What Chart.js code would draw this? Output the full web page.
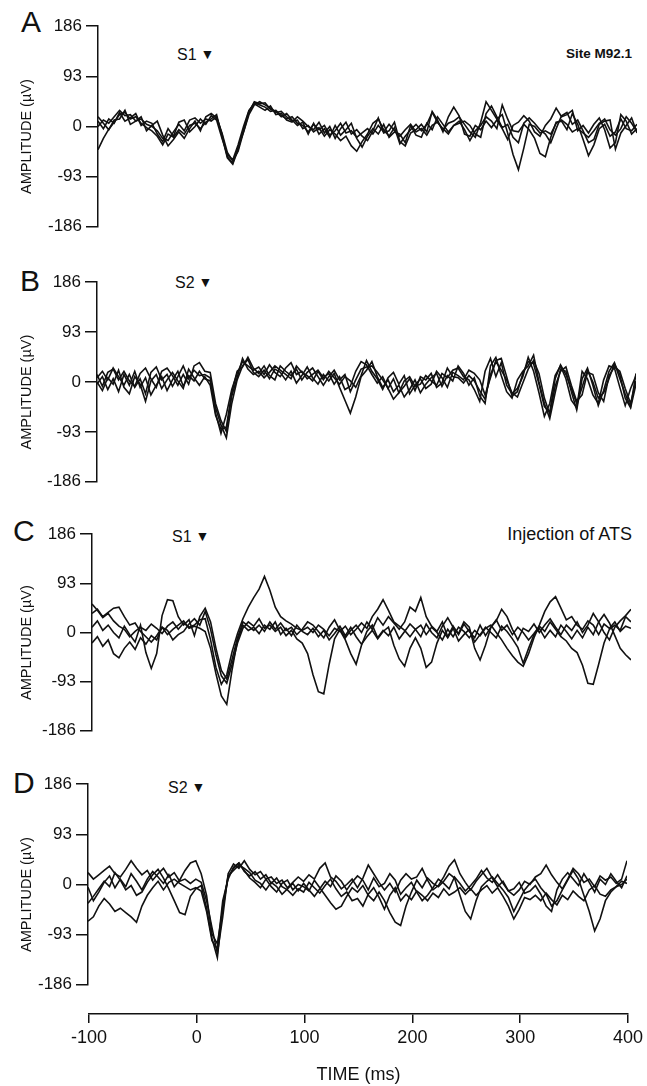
<!DOCTYPE html>
<html>
<head>
<meta charset="utf-8">
<script src="https://cdn.jsdelivr.net/npm/chart.js@4.4.0/dist/chart.umd.min.js"></script>
<style>
  body { margin: 0; background: #fff; width: 647px; height: 1086px; position: relative; overflow: hidden;
         font-family: "Liberation Sans", Arial, sans-serif; color: #111; }
  canvas { position: absolute; left: 0; }
  .lbl { position: absolute; white-space: nowrap; line-height: 1; }
  .letter { font-size: 30px; }
  .stim { font-size: 16px; }
  .stim span { font-size: 14px; margin-left: 4px; position: relative; top: -1px; }
</style>
</head>
<body>
<div class="lbl letter" style="left:21px;top:7px">A</div>
<div class="lbl letter" style="left:20px;top:266px">B</div>
<div class="lbl letter" style="left:13px;top:516px">C</div>
<div class="lbl letter" style="left:13px;top:768px">D</div>

<div class="lbl stim" style="left:177px;top:47px">S1<span>▼</span></div>
<div class="lbl stim" style="left:175px;top:275px">S2<span>▼</span></div>
<div class="lbl stim" style="left:172px;top:529px">S1<span>▼</span></div>
<div class="lbl stim" style="left:168px;top:780px">S2<span>▼</span></div>

<div class="lbl" style="right:15px;top:47px;font-size:13.5px;font-weight:bold">Site M92.1</div>
<div class="lbl" style="right:15px;top:525px;font-size:18px">Injection of ATS</div>

<script>
// time axis in ms, one sample every 5 ms
const TIME = [
  -100, -95, -90, -85, -80, -75, -70, -65, -60, -55,
  -50, -45, -40, -35, -30, -25, -20, -15, -10, -5,
  0, 5, 10, 15, 20, 25, 30, 35, 40, 45,
  50, 55, 60, 65, 70, 75, 80, 85, 90, 95,
  100, 105, 110, 115, 120, 125, 130, 135, 140, 145,
  150, 155, 160, 165, 170, 175, 180, 185, 190, 195,
  200, 205, 210, 215, 220, 225, 230, 235, 240, 245,
  250, 255, 260, 265, 270, 275, 280, 285, 290, 295,
  300, 305, 310, 315, 320, 325, 330, 335, 340, 345,
  350, 355, 360, 365, 370, 375, 380, 385, 390, 395,
  400
];
const Y_TICKS = [-186, -93, 0, 93, 186];
const X_TICKS = [-100, 0, 100, 200, 300, 400];

// panel A (S1)
const A1 = [-43, -22, -5, 8, 22, 26, 14, 18, 6, -2,
  -8, -18, -34, -14, -20, -6, -14, 2, 6, -4,
  8, 14, 22, -18, -58, -70, -42, -6, 28, 44,
  40, 36, 28, 30, 20, 14, 18, 6, 2, -10,
  4, -6, 2, -16, -8, 6, -12, -8, -20, -12,
  -4, -14, 2, -10, 4, -8, -18, -6, 4, -10,
  -4, -16, 2, 8, -6, 6, 10, 18, 4, -10,
  -20, 8, 46, 30, 14, 22, -12, -52, -80, -40,
  4, 0, -12, -8, -14, 6, 12, 4, -10, -4,
  -12, -20, -8, 6, 14, -6, -16, -4, 18, 6,
  -10];
const A2 = [0, 12, 6, 18, 30, 20, 22, 10, 14, 4,
  0, -8, -22, -26, -10, 4, -8, 12, 16, 6,
  14, 10, 18, -12, -48, -64, -46, -10, 22, 40,
  46, 40, 34, 26, 28, 18, 10, 12, -4, 2,
  -10, -2, -18, -6, -14, -26, -18, -36, -46, -28,
  -14, 6, 14, -6, -18, -2, -32, -18, -6, 4,
  -8, 4, 26, 8, -4, -14, 2, 10, -6, -26,
  -8, 2, 18, 10, -4, 40, 14, -8, -10, 4,
  -6, -22, -50, -56, -20, 8, 10, -6, 24, 4,
  -24, -54, -34, -4, 4, -18, -10, 14, -4, -8,
  4];
const A3 = [10, -4, 14, 6, 26, 10, 16, 24, 2, 10,
  6, -14, -28, -4, -18, 8, 12, -10, 0, 14,
  4, 20, 12, -22, -52, -62, -34, 0, 30, 42,
  36, 30, 38, 22, 24, 12, 8, 18, 10, 0,
  -6, 8, -12, 0, -22, -4, 8, -14, -6, -18,
  -26, -8, 16, -12, -8, 8, -28, -36, -12, -6,
  4, -10, 28, 12, -10, 18, 36, 20, -14, -18,
  2, -6, 10, -2, 12, -4, -24, 2, 8, 20,
  10, -10, -18, 2, 14, 34, 18, 22, 30, -8,
  2, -12, 4, 16, -6, -40, -30, 22, 10, -14,
  -4];
const A4 = [18, 6, -6, 12, 14, 30, 4, 10, 18, -8,
  2, 10, -16, -36, -24, -10, -22, -4, 10, -8,
  18, 24, 16, -14, -56, -68, -38, -10, 26, 46,
  42, 44, 32, 28, 18, 24, 12, 2, 8, -14,
  6, -14, -4, -20, 2, -16, -6, 6, -22, -38,
  -18, -4, -14, 4, -20, -10, -14, -30, 2, -16,
  -20, 6, -6, 18, 4, -10, 2, 6, 10, 2,
  -14, -20, 24, 38, 18, -2, 4, -20, -30, 6,
  16, 6, -6, -14, -30, -4, 20, 26, 4, 12,
  -8, -30, -24, 4, 10, 12, -42, -12, 2, 16,
  -12];

// panel B (S2)
const B1 = [8, 20, 4, 26, 10, -6, 14, -10, 6, -22,
  18, 28, 4, 14, -8, 10, 30, 6, 22, 12,
  14, 8, -58, -96, -60, -14, 16, 38, 30, 22,
  28, 14, 32, 18, 10, 26, 36, 14, 20, 6,
  14, 22, 8, 16, -4, 10, -14, -8, 20, 38,
  32, 14, -2, 10, -12, 6, -20, 2, 10, -8,
  -4, 12, 2, -6, 16, 8, 22, 26, 10, 4,
  -14, -36, 20, 44, 10, 36, -6, -22, -12, 10,
  46, 20, -20, -64, -40, 12, 30, 6, -34, -48,
  20, 6, -24, -40, 4, 30, 26, -10, -44, -12,
  12];
const B2 = [-4, 10, -14, 6, -18, 14, -6, 20, -10, 8,
  -24, -6, 10, -16, 4, 20, -8, 12, 2, 20,
  6, 2, -48, -80, -104, -40, 4, 30, 42, 18,
  10, 22, 6, 24, 18, 4, 20, -2, 12, 28,
  8, -4, 14, 2, 16, -10, -34, -58, -28, 10,
  22, 38, 10, -10, 4, -18, -6, -28, -14, 4,
  -20, -4, 8, 16, -8, 12, 2, 30, 16, -6,
  8, -26, -40, 30, 46, 12, -18, -30, 4, 20,
  30, 50, 0, -40, -68, -20, 24, 20, -18, -52,
  6, 26, -6, -44, -16, 20, 36, 6, -22, -46,
  16];
const B3 = [14, -8, 18, 24, 4, 20, 2, -8, 16, 26,
  6, -10, 20, 26, 12, -6, 14, -4, 30, 36,
  20, 18, -40, -72, -92, -26, 8, 44, 24, 14,
  20, 8, 18, 30, 22, 14, 6, 30, 18, 12,
  2, 20, 4, 20, 8, -4, 10, 2, -10, 12,
  40, 20, 6, -14, 8, 18, -4, 12, -22, -6,
  6, -12, -4, 20, 8, -10, 18, 12, 4, 22,
  16, 4, -24, 8, 40, 44, 10, -26, -18, 16,
  38, 34, -4, -46, -56, 6, 32, 14, -12, -40,
  -10, 22, 0, -30, -20, 6, 34, 14, -30, -48,
  -4];
const B4 = [0, -16, 8, -4, 22, -10, -22, 10, -4, -36,
  2, 14, -12, 4, 18, 2, -12, 24, 8, -6,
  10, -6, -62, -88, -84, -20, 20, 28, 46, 26,
  16, 30, 12, 4, 30, 20, 12, 24, 4, 18,
  26, 10, -6, 10, 22, 4, 14, -18, 4, 24,
  28, 30, 18, 4, -12, -32, -20, -8, 6, -16,
  10, 4, 16, -10, -2, 26, 10, 8, -2, 12,
  2, -16, -32, 14, 38, 22, 4, -20, -28, -2,
  24, 40, 16, -30, -60, -8, 20, 28, -6, -36,
  -24, 18, 14, -20, -36, 12, 28, 20, -12, -40,
  2];

// panel C (S1, after injection of ATS)
const C1 = [54, 42, 28, 36, 22, 12, 6, -8, 2, 10,
  4, 16, 8, -2, 12, 20, 6, 18, 10, 14,
  24, 26, -14, -66, -98, -80, -36, -2, 26, 48,
  66, 82, 106, 80, 48, 30, 22, 16, 8, 4,
  10, 0, 14, 6, -6, 8, 2, 12, -4, 6,
  18, 8, 30, 44, 62, 42, 20, 12, 4, -8,
  6, 14, -4, 10, 0, -14, 6, -8, 10, 2,
  -10, 4, -6, 8, 14, 0, -14, -30, -44, -56,
  -64, -40, -10, 14, 40, 58, 68, 46, 24, 30,
  14, 6, 22, 14, -4, 16, 8, 20, 2, 12,
  8];
const C2 = [36, 44, 30, 38, 46, 48, 30, 14, 18, 2,
  -8, -18, -6, 10, 4, -14, -4, 2, 16, 26,
  14, 40, 6, -42, -82, -96, -60, -20, 8, 20,
  12, 26, 8, 14, 2, 10, -6, 4, -12, -20,
  -40, -80, -112, -116, -60, -12, 6, -10, 4, 14,
  0, 20, 6, 28, 14, 30, 18, 6, 20, 48,
  40, 66, 30, 12, 2, 20, -8, 12, -4, 16,
  2, -10, 14, -6, 10, 24, 4, 14, -4, 10,
  0, -14, -2, 12, 2, 20, 6, -8, -16, -30,
  -38, -62, -96, -98, -60, -20, 6, 14, 4, 30,
  20];
const C3 = [10, 22, 4, 14, 0, -10, 12, -4, -18, 14,
  -38, -68, -40, 32, 62, 60, 30, 14, 24, -6,
  30, 46, 20, -30, -72, -88, -50, -10, 20, 12,
  4, 14, 2, 20, 6, 18, 4, 10, -4, 6,
  20, 14, 2, -10, 10, 24, 4, -14, -40, -60,
  -24, 2, 14, -10, 4, -6, 10, -12, 2, 16,
  6, -8, 16, 0, -10, 12, 28, 10, -2, 20,
  10, -30, -52, -24, 10, 22, 44, 30, 6, -14,
  8, 2, 16, 0, 14, 26, 10, -4, 14, 4,
  20, 0, 14, 36, 20, 0, -14, 10, 22, 32,
  44];
const C4 = [-20, -8, -26, -14, -40, -48, -30, -18, -32, -10,
  -22, -6, -14, 10, -4, 6, 14, 22, 8, 12,
  8, 2, -30, -78, -120, -136, -70, -14, 14, 4,
  10, -2, 14, 6, 20, -4, 8, -6, 14, 2,
  -4, 8, -8, 4, -14, -2, 12, -6, 10, -8,
  -22, -8, 4, -12, 2, 10, -24, -50, -64, -30,
  -10, -30, -66, -56, -20, 4, -10, 8, -16, -4,
  6, -18, -4, 10, 0, -10, 12, 2, -12, -28,
  -58, -30, -4, 8, -10, 4, -8, 14, 2, -12,
  4, -10, 10, -4, 20, 34, 18, -6, -30, -42,
  -52];

// panel D (S2, after injection of ATS)
const D1 = [22, 10, 18, 26, 34, 20, 14, 28, 44, 30,
  18, 26, 8, 20, 30, 14, 22, 6, 10, 2,
  10, 4, -30, -80, -128, -60, 20, 38, 30, 44,
  28, 18, 24, 10, 14, 2, 8, -6, 4, 14,
  6, 18, 10, 30, 40, 14, 6, -8, 0, 10,
  -6, 12, 36, 20, 4, -10, 2, -14, 8, 20,
  10, 14, 30, 8, -10, -2, 14, 34, 46, 20,
  4, -10, 6, 18, 30, 12, -4, 6, -12, -20,
  -10, 6, 0, 14, 20, 36, 18, 4, -8, 10,
  30, 20, 4, 10, -4, 16, 8, 14, 2, 10,
  44];
const D2 = [-5, -30, -14, 4, 16, -6, 10, -4, 20, 6,
  -10, 10, 24, 14, 2, 18, -4, 8, 26, 40,
  44, 20, -20, -92, -110, -46, 14, 30, 40, 26,
  12, 4, -6, 10, -4, -14, 2, 8, -10, 0,
  -4, -12, 8, -6, -20, -34, -46, -40, -22, -6,
  -14, -2, -20, -30, -14, -30, -52, -70, -76, -40,
  -14, 8, -6, 12, 2, -4, 6, 20, 12, -20,
  -50, -64, -30, -4, 6, 14, 2, -10, -24, -50,
  -30, -10, 2, 10, -6, -18, -40, -30, -10, 8,
  26, 10, -20, -50, -86, -64, -30, -14, -4, 0,
  10];
const D3 = [-35, -22, -8, 6, -4, 22, 8, -10, -2, -20,
  -14, 4, 18, 28, 12, -8, -30, -52, -56, -22,
  -8, -2, -44, -100, -136, -40, 16, 26, 36, 30,
  22, 8, 2, -10, 4, -4, -18, -8, 2, -12,
  2, -10, -22, -8, 6, -4, 16, 6, -10, 4,
  16, 8, -10, 12, -4, 2, 20, 8, -18, -6,
  4, -14, -30, -20, -6, 10, 2, -8, 14, 2,
  -12, -2, 10, 26, 12, 4, 18, 2, -12, -8,
  4, -16, -12, -2, -18, -40, -50, -10, 10, 22,
  10, -2, 20, 4, -14, 10, 0, 20, 6, -6,
  16];
const D4 = [-68, -60, -40, -26, -36, -50, -44, -52, -60, -70,
  -40, -20, -6, 6, -10, 4, 10, 2, -4, -10,
  -6, -12, -50, -104, -120, -30, 10, 32, 40, 24,
  16, 24, 10, 18, 2, 12, -4, -10, -20, -8,
  -14, 4, -6, -16, -2, 10, -8, -22, -14, -30,
  -26, -40, -18, -6, -24, -46, -20, -6, -30, -18,
  -28, -12, -20, -30, -16, -24, -8, -20, -14, -6,
  -18, -8, -20, -10, -2, -16, -6, -22, -40, -64,
  -46, -24, -28, -20, -30, -16, -28, -38, -20, -28,
  -12, -22, -30, -10, -2, -18, -22, -10, -4, 6,
  2];

Chart.defaults.font.family = '"Liberation Sans", Arial, sans-serif';
Chart.defaults.color = '#111';

const INK = '#111';
const PLOT_W = 539;   // pixels from -100 ms to 400 ms
const PAD = 12;

// where each panel sits on the page (scan is slightly skewed, so the axis drifts)
const panels = [
  { traces: [A1, A2, A3, A4], axisX: 98, top: 24, bottom: 229 },
  { traces: [B1, B2, B3, B4], axisX: 97, top: 280, bottom: 484 },
  { traces: [C1, C2, C3, C4], axisX: 92, top: 532, bottom: 733 },
  { traces: [D1, D2, D3, D4], axisX: 88, top: 782, bottom: 987 }
];

function addCanvas(top, height) {
  const cv = document.createElement('canvas');
  cv.width = 647;
  cv.height = height;
  cv.style.top = top + 'px';
  document.body.appendChild(cv);
  return cv;
}

panels.forEach(p => {
  const cv = addCanvas(p.top - PAD, p.bottom - p.top + 2 * PAD);
  new Chart(cv, {
    type: 'line',
    data: {
      datasets: p.traces.map(tr => ({
        data: tr.map((v, i) => ({ x: TIME[i], y: v })),
        borderColor: INK,
        borderWidth: 1.6,
        pointRadius: 0,
        tension: 0,
        fill: false
      }))
    },
    options: {
      responsive: false,
      animation: false,
      layout: { padding: { top: PAD, bottom: PAD, left: 0, right: 647 - p.axisX - PLOT_W } },
      plugins: { legend: { display: false }, tooltip: { enabled: false } },
      scales: {
        x: { type: 'linear', min: -100, max: 400, display: false },
        y: {
          min: -186,
          max: 186,
          afterBuildTicks: s => { s.ticks = Y_TICKS.map(v => ({ value: v })); },
          afterFit: s => { s.width = p.axisX; },
          border: { display: true, color: INK, width: 1.5 },
          grid: { drawOnChartArea: false, drawTicks: true, tickLength: 12, color: INK, lineWidth: 1.5 },
          ticks: { color: INK, font: { size: 17 }, padding: 4 },
          title: {
            display: true,
            text: 'AMPLITUDE (µV)     ',
            color: INK,
            font: { size: 14.5 },
            padding: { top: 18, bottom: 0 }
          }
        }
      }
    }
  });
});

// shared time axis under panel D
const axisCv = addCanvas(1000, 86);
new Chart(axisCv, {
  type: 'line',
  data: { datasets: [] },
  options: {
    responsive: false,
    animation: false,
    layout: { padding: { left: 89, right: 647 - 89 - PLOT_W, top: 0, bottom: 0 } },
    plugins: { legend: { display: false }, tooltip: { enabled: false } },
    scales: {
      y: { display: false, min: 0, max: 1 },
      x: {
        type: 'linear',
        min: -100,
        max: 400,
        afterBuildTicks: s => { s.ticks = X_TICKS.map(v => ({ value: v })); },
        afterFit: s => { s.height = 72; },
        border: { display: true, color: INK, width: 1.5 },
        grid: { drawOnChartArea: false, drawTicks: true, tickLength: 9, color: INK, lineWidth: 1.5 },
        ticks: { color: INK, font: { size: 18 }, padding: 4, maxRotation: 0 },
        title: { display: true, text: 'TIME (ms)', color: INK, font: { size: 18 }, padding: { top: 0, bottom: 0 } }
      }
    }
  }
});
</script>
</body>
</html>
